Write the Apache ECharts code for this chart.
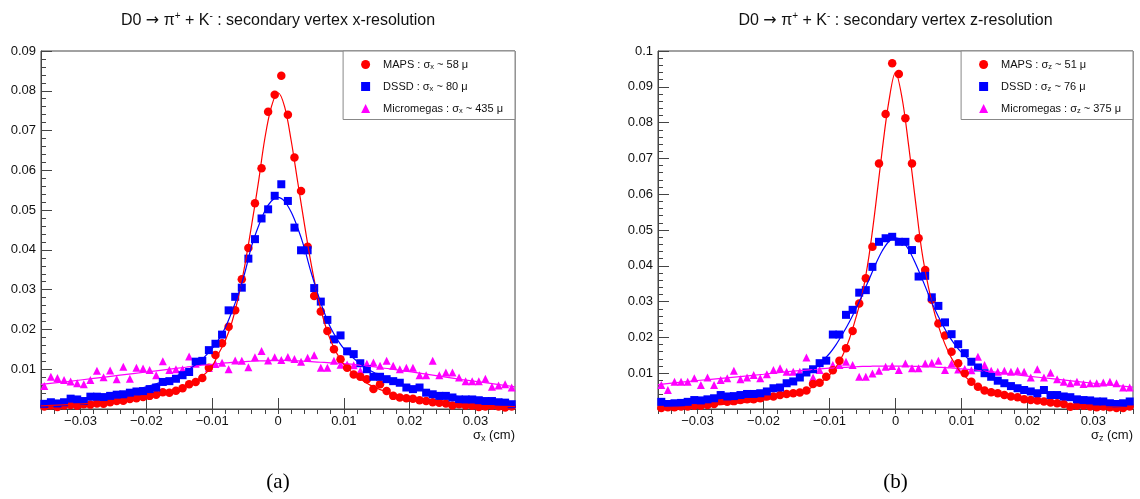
<!DOCTYPE html>
<html><head><meta charset="utf-8">
<script src="https://cdn.jsdelivr.net/npm/echarts@6/dist/echarts.min.js"></script>
<style>html,body{margin:0;padding:0;background:#fff}#c{width:1140px;height:499px}</style>
</head><body><div id="c"></div><script>
// ---- histogram binning (72 bins of 0.001 cm from -0.036 to 0.036) ----
const binLow = -0.036, binWidth = 0.001, binCount = 72;

// ---- panel (a): x-resolution, bin contents from left to right ----
const mapsX = [0.0006,0.0009,0.0005,0.0009,0.0010,0.0008,0.0012,0.0011,0.0014,0.0013,0.0017,0.0020,0.0021,0.0025,0.0027,0.0030,0.0033,0.0036,0.0042,0.0041,0.0046,0.0052,0.0062,0.0068,0.0078,0.0104,0.0136,0.0165,0.0207,0.0248,0.0326,0.0405,0.0517,0.0605,0.0747,0.0790,
  0.0838,0.0740,0.0632,0.0548,0.0408,0.0284,0.0245,0.0196,0.0150,0.0125,0.0104,0.0087,0.0081,0.0075,0.0050,0.0062,0.0045,0.0033,0.0029,0.0027,0.0026,0.0022,0.0020,0.0017,0.0016,0.0014,0.0009,0.0012,0.0009,0.0008,0.0005,0.0006,0.0008,0.0006,0.0004,0.0006];
const dssdX = [0.0013,0.0017,0.0014,0.0017,0.0026,0.0024,0.0020,0.0031,0.0031,0.0030,0.0033,0.0036,0.0037,0.0041,0.0044,0.0045,0.0050,0.0054,0.0068,0.0070,0.0076,0.0085,0.0093,0.0119,0.0121,0.0148,0.0164,0.0187,0.0248,0.0282,0.0305,0.0378,0.0427,0.0479,0.0502,0.0536,
  0.0565,0.0523,0.0456,0.0399,0.0399,0.0304,0.0270,0.0224,0.0175,0.0185,0.0145,0.0138,0.0115,0.0100,0.0081,0.0081,0.0075,0.0070,0.0066,0.0054,0.0050,0.0054,0.0041,0.0037,0.0033,0.0033,0.0029,0.0024,0.0024,0.0024,0.0022,0.0020,0.0020,0.0017,0.0016,0.0012];
const microX = [0.0058,0.0081,0.0078,0.0073,0.0069,0.0065,0.0062,0.0073,0.0096,0.0080,0.0097,0.0075,0.0106,0.0076,0.0104,0.0102,0.0098,0.0085,0.0120,0.0098,0.0100,0.0100,0.0132,0.0114,0.0121,0.0103,0.0113,0.0116,0.0100,0.0122,0.0121,0.0105,0.0130,0.0146,0.0122,0.0130,
  0.0123,0.0131,0.0126,0.0119,0.0129,0.0135,0.0104,0.0104,0.0121,0.0111,0.0112,0.0110,0.0096,0.0114,0.0117,0.0109,0.0121,0.0109,0.0100,0.0104,0.0104,0.0085,0.0085,0.0121,0.0085,0.0092,0.0092,0.0079,0.0070,0.0070,0.0070,0.0076,0.0056,0.0059,0.0062,0.0054];

// ---- panel (b): z-resolution ----
const mapsZ = [0.0003,0.0005,0.0005,0.0007,0.0007,0.0009,0.0009,0.0011,0.0014,0.0022,0.0020,0.0022,0.0025,0.0027,0.0027,0.0030,0.0035,0.0035,0.0039,0.0042,0.0044,0.0046,0.0052,0.0070,0.0073,0.0090,0.0108,0.0135,0.0170,0.0218,0.0295,0.0365,0.0453,0.0686,0.0824,0.0966,
  0.0936,0.0812,0.0686,0.0477,0.0388,0.0305,0.0239,0.0205,0.0160,0.0128,0.0100,0.0076,0.0062,0.0052,0.0047,0.0044,0.0039,0.0035,0.0033,0.0027,0.0025,0.0024,0.0021,0.0018,0.0016,0.0014,0.0006,0.0009,0.0009,0.0007,0.0005,0.0007,0.0005,0.0003,0.0003,0.0007];
const dssdZ = [0.0020,0.0014,0.0016,0.0017,0.0020,0.0025,0.0024,0.0027,0.0030,0.0039,0.0035,0.0036,0.0039,0.0042,0.0042,0.0044,0.0049,0.0058,0.0060,0.0072,0.0077,0.0088,0.0102,0.0111,0.0128,0.0135,0.0208,0.0208,0.0263,0.0277,0.0325,0.0332,0.0397,0.0467,0.0477,0.0481,
  0.0467,0.0467,0.0444,0.0370,0.0372,0.0312,0.0288,0.0242,0.0209,0.0181,0.0156,0.0132,0.0116,0.0100,0.0090,0.0079,0.0072,0.0064,0.0058,0.0053,0.0049,0.0044,0.0053,0.0039,0.0039,0.0035,0.0033,0.0027,0.0025,0.0024,0.0021,0.0021,0.0016,0.0014,0.0016,0.0021];
const microZ = [0.0067,0.0053,0.0076,0.0076,0.0076,0.0086,0.0067,0.0088,0.0067,0.0081,0.0086,0.0107,0.0083,0.0088,0.0095,0.0086,0.0097,0.0109,0.0114,0.0104,0.0104,0.0104,0.0144,0.0088,0.0109,0.0137,0.0123,0.0123,0.0132,0.0123,0.0090,0.0090,0.0099,0.0107,0.0118,0.0120,
  0.0109,0.0127,0.0114,0.0114,0.0127,0.0129,0.0135,0.0109,0.0127,0.0110,0.0112,0.0108,0.0146,0.0123,0.0107,0.0104,0.0107,0.0104,0.0107,0.0104,0.0088,0.0111,0.0088,0.0101,0.0083,0.0076,0.0072,0.0076,0.0070,0.0072,0.0072,0.0074,0.0076,0.0072,0.0060,0.0060];

// ---- fitted curves at these abscissae ----
const fitX = [-0.036,-0.032,-0.028,-0.024,-0.020,-0.017,-0.014,-0.012,-0.010,-0.009,-0.008,-0.007,-0.006,-0.005,-0.004,-0.003,-0.002,-0.001,0,0.001,0.002,0.003,0.004,0.005,0.006,0.007,0.008,0.009,0.010,0.012,0.014,0.017,0.020,0.024,0.028,0.032,0.036];
const fitMapsX = [0.0008,0.0011,0.0015,0.0021,0.0030,0.0039,0.0056,0.0075,0.0108,0.0140,0.0172,0.0218,0.0283,0.0365,0.0463,0.0567,0.0680,0.0760,0.0795,0.0760,0.0675,0.0570,0.0466,0.0368,0.0285,0.0220,0.0172,0.0138,0.0112,0.0082,0.0060,0.0040,0.0028,0.0018,0.0012,0.0008,0.0006];
const fitDssdX = [0.0015,0.0021,0.0030,0.0041,0.0056,0.0072,0.0095,0.0118,0.0152,0.0175,0.0205,0.0245,0.0290,0.0345,0.0410,0.0458,0.0498,0.0523,0.0532,0.0522,0.0495,0.0455,0.0405,0.0345,0.0292,0.0244,0.0204,0.0175,0.0152,0.0120,0.0097,0.0073,0.0056,0.0040,0.0030,0.0021,0.0015];
const fitMicroX = [0.0062,0.0069,0.0077,0.0085,0.0093,0.0099,0.0105,0.0109,0.0112,0.0114,0.0116,0.0117,0.0118,0.0119,0.0120,0.0121,0.0121,0.0122,0.0122,0.0122,0.0121,0.0121,0.0120,0.0119,0.0118,0.0117,0.0116,0.0115,0.0114,0.0111,0.0107,0.0101,0.0094,0.0084,0.0074,0.0065,0.0056];
const fitMapsZ = [0.0004,0.0006,0.0010,0.0016,0.0025,0.0035,0.0050,0.0067,0.0095,0.0118,0.0150,0.0195,0.0255,0.0325,0.0430,0.0570,0.0725,0.0860,0.0940,0.0868,0.0735,0.0585,0.0440,0.0340,0.0262,0.0205,0.0160,0.0126,0.0100,0.0069,0.0051,0.0035,0.0024,0.0015,0.0009,0.0006,0.0004];
const fitDssdZ = [0.0016,0.0020,0.0026,0.0035,0.0050,0.0066,0.0092,0.0117,0.0155,0.0180,0.0210,0.0243,0.0280,0.0320,0.0362,0.0405,0.0442,0.0468,0.0478,0.0470,0.0445,0.0408,0.0365,0.0320,0.0277,0.0240,0.0207,0.0180,0.0158,0.0124,0.0098,0.0072,0.0055,0.0040,0.0029,0.0022,0.0017];
const fitMicroZ = [0.0068,0.0076,0.0083,0.0090,0.0097,0.0103,0.0108,0.0111,0.0114,0.0115,0.0116,0.0117,0.0118,0.0119,0.0119,0.0120,0.0120,0.0120,0.0120,0.0120,0.0120,0.0119,0.0119,0.0118,0.0117,0.0116,0.0115,0.0114,0.0112,0.0109,0.0105,0.0099,0.0092,0.0084,0.0076,0.0068,0.0061];

// ---- texts ----
const legendX = ['MAPS : σx ~ 58 μ', 'DSSD : σx ~ 80 μ', 'Micromegas : σx ~ 435 μ'];
const legendZ = ['MAPS : σz ~ 51 μ', 'DSSD : σz ~ 76 μ', 'Micromegas : σz ~ 375 μ'];
const titleTexts = ['x-resolution', 'z-resolution'];
const axisVars = ['x', 'z'];
const captions = ['(a)', '(b)'];
const yMax = [0.09, 0.1];

const FONT = '"Liberation Sans", Arial, Helvetica, sans-serif';
const COLORS = ['#ff0000', '#0000ff', '#ff00ff'];
const SYMBOLS = ['circle', 'rect', 'triangle'];
const SIZES = [8.5, 8, 8];
const centers = Array.from({length: binCount}, (_, i) => +(binLow + (i + 0.5) * binWidth).toFixed(4));

const grids = [{left: 41, top: 51, width: 474, height: 358}, {left: 658, top: 51, width: 475, height: 358}];
const AX = '#444';

const xAxes = [], yAxes = [], series = [], legends = [], graphics = [];
const panels = [
  {names: legendX, data: [mapsX, dssdX, microX], fits: [fitMapsX, fitDssdX, fitMicroX]},
  {names: legendZ, data: [mapsZ, dssdZ, microZ], fits: [fitMapsZ, fitDssdZ, fitMicroZ]}
];

panels.forEach((p, g) => {
  // major x axis with labels
  xAxes.push({
    type: 'value', gridIndex: g, min: binLow, max: -binLow, splitNumber: 7,
    axisLine: {show: true, onZero: false, lineStyle: {color: AX, width: 1}},
    axisTick: {show: true, inside: true, length: 11, lineStyle: {color: AX}},
    minorTick: {show: false},
    splitLine: {show: false},
    axisLabel: {show: true, showMinLabel: false, showMaxLabel: false, margin: 6, color: '#111', fontSize: 13, fontFamily: FONT,
      formatter: v => Math.abs(v) < 1e-9 ? '0' : String(+v.toFixed(3)).replace('-', '\u2212')}
  });
  // minor ticks every 0.002
  xAxes.push({
    type: 'value', gridIndex: g, min: binLow, max: -binLow, interval: 0.002,
    axisLine: {show: false}, axisLabel: {show: false}, splitLine: {show: false},
    axisTick: {show: true, inside: true, length: 5, lineStyle: {color: AX}}
  });
  yAxes.push({
    type: 'value', gridIndex: g, min: 0, max: yMax[g], interval: 0.01,
    axisLine: {show: true, onZero: false, lineStyle: {color: AX, width: 1}},
    axisTick: {show: true, inside: true, length: 11, lineStyle: {color: AX}},
    minorTick: {show: true, splitNumber: 5, length: 5, lineStyle: {color: AX}},
    splitLine: {show: false},
    axisLabel: {show: true, showMinLabel: false, margin: 5, color: '#111', fontSize: 13, fontFamily: FONT,
      formatter: v => String(+v.toFixed(3))}
  });
  const xi = g * 2, yi = g;
  [2, 0, 1].forEach(k => {
    series.push({
      type: 'scatter', name: p.names[k], xAxisIndex: xi, yAxisIndex: yi,
      symbol: SYMBOLS[k], symbolSize: SIZES[k], itemStyle: {color: COLORS[k], opacity: 1},
      data: p.data[k].map((v, i) => [centers[i], v]), z: 3, silent: true
    });
  });
  [2, 0, 1].forEach(k => {
    series.push({
      type: 'line', name: 'fit ' + p.names[k], xAxisIndex: xi, yAxisIndex: yi,
      showSymbol: false, smooth: 0.35, lineStyle: {color: COLORS[k], width: 1.2},
      data: p.fits[k].map((v, i) => [fitX[i], v]), z: 4, silent: true
    });
  });
  legends.push({
    data: p.names.map((n, k) => ({name: n, icon: SYMBOLS[k]})),
    orient: 'vertical', right: 1140 - (grids[g].left + grids[g].width), top: 51,
    backgroundColor: '#fff', borderColor: '#888', borderWidth: 1,
    padding: [8, 12, 5, 18], itemGap: 10.5, itemWidth: 9, itemHeight: 9,
    selectedMode: false,
    textStyle: {fontSize: 11, fontFamily: FONT, color: '#111', padding: [0, 0, 0, 8],
      rich: {b: {fontSize: 11, fontFamily: FONT, color: '#111', lineHeight: 12},
             sub: {fontSize: 7.5, fontFamily: FONT, color: '#111', lineHeight: 6, verticalAlign: 'bottom'}}},
    formatter: name => '{b|' + name.replace(/σ([xz])/, '}{b|σ}{sub|$1}{b|') + '}'
  });
  const cx = grids[g].left + grids[g].width / 2;
  graphics.push({
    type: 'text', x: cx, y: 21, silent: true,
    style: {text: '{t|D0 }{arr|\u2192}{t| \u03c0}{sup|+}{t| + K}{sup|-}{t| : secondary vertex ' + titleTexts[g] + '}',
      textAlign: 'center', textVerticalAlign: 'middle',
      rich: {t: {fontSize: 16, fontFamily: FONT, fill: '#111', lineHeight: 20},
             arr: {fontSize: 16, fontFamily: '"DejaVu Sans", sans-serif', fill: '#111', lineHeight: 20},
             sup: {fontSize: 10, fontFamily: FONT, fill: '#111', lineHeight: 12, verticalAlign: 'top'}}}
  });
  graphics.push({
    type: 'text', x: grids[g].left + grids[g].width, y: 435, silent: true,
    style: {text: '{t|σ}{sub|' + axisVars[g] + '}{t| (cm)}', textAlign: 'right', textVerticalAlign: 'middle',
      rich: {t: {fontSize: 13, fontFamily: FONT, fill: '#111', lineHeight: 16},
             sub: {fontSize: 9, fontFamily: FONT, fill: '#111', lineHeight: 8, verticalAlign: 'bottom'}}}
  });
  graphics.push({
    type: 'text', x: cx, y: 482, silent: true,
    style: {text: captions[g], textAlign: 'center', textVerticalAlign: 'middle',
      font: '21px "Liberation Serif", "Times New Roman", serif', fill: '#000'}
  });
});

const chart = echarts.init(document.getElementById('c'), null, {renderer: 'canvas'});
chart.setOption({
  animation: false,
  backgroundColor: '#fff',
  grid: grids.map(gr => Object.assign({show: true, borderColor: AX, borderWidth: 1, backgroundColor: 'transparent', containLabel: false}, gr)),
  xAxis: xAxes,
  yAxis: yAxes,
  legend: legends,
  series: series,
  graphic: graphics
});
</script></body></html>
